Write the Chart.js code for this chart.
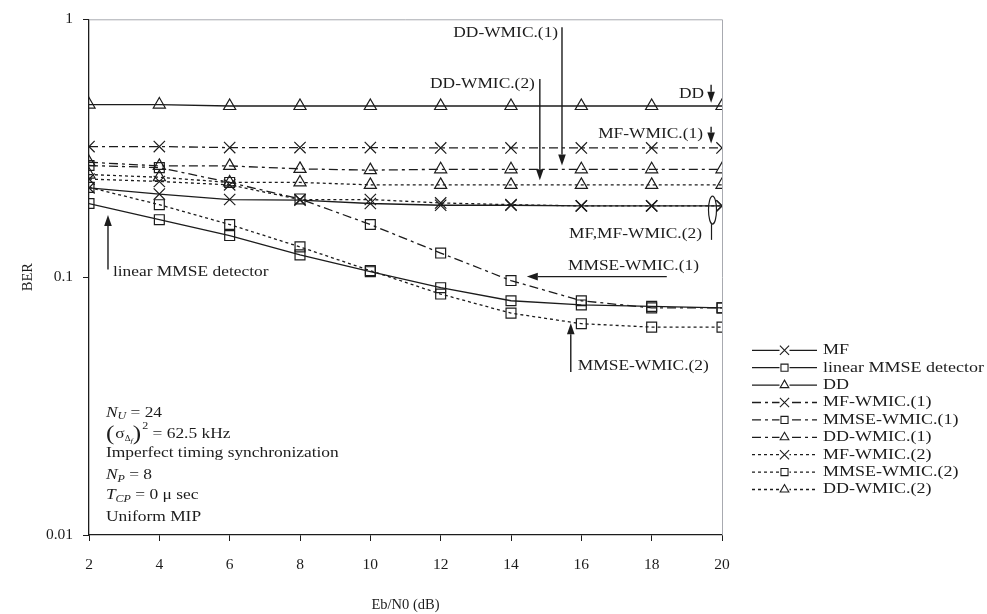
<!DOCTYPE html>
<html>
<head>
<meta charset="utf-8">
<script src="https://cdn.jsdelivr.net/npm/chart.js@4.4.1/dist/chart.umd.min.js"></script>
<style>
  html, body { margin: 0; padding: 0; background: #fff; }
  #wrap { width: 987px; height: 614px; }
</style>
</head>
<body>
<div id="wrap"><canvas id="c" width="987" height="614"></canvas></div>
<script>
// Eb/N0 sweep (dB)
const ebn0 = [2, 4, 6, 8, 10, 12, 14, 16, 18, 20];

// Bit error rate per detector
const mf         = [0.222, 0.210, 0.200, 0.199, 0.193, 0.190, 0.190, 0.189, 0.189, 0.189];
const linearMmse = [0.193, 0.167, 0.145, 0.122, 0.105, 0.091, 0.081, 0.078, 0.077, 0.076];
const dd         = [0.467, 0.467, 0.461, 0.461, 0.461, 0.461, 0.461, 0.461, 0.461, 0.461];
const mfWmic1    = [0.321, 0.321, 0.318, 0.318, 0.318, 0.317, 0.317, 0.317, 0.317, 0.317];
const mmseWmic1  = [0.271, 0.266, 0.233, 0.201, 0.160, 0.124, 0.097, 0.081, 0.076, 0.076];
const ddWmic1    = [0.279, 0.270, 0.270, 0.263, 0.260, 0.262, 0.262, 0.262, 0.262, 0.262];
const mfWmic2    = [0.240, 0.235, 0.228, 0.200, 0.200, 0.194, 0.191, 0.189, 0.189, 0.189];
const mmseWmic2  = [0.223, 0.191, 0.160, 0.131, 0.106, 0.086, 0.0725, 0.066, 0.064, 0.064];
const ddWmic2    = [0.250, 0.244, 0.233, 0.233, 0.228, 0.228, 0.228, 0.228, 0.228, 0.228];

// Series names
const seriesNames = [
  'MF', 'linear MMSE detector', 'DD',
  'MF-WMIC.(1)', 'MMSE-WMIC.(1)', 'DD-WMIC.(1)',
  'MF-WMIC.(2)', 'MMSE-WMIC.(2)', 'DD-WMIC.(2)'
];

// Axis ticks
const yTicks = [0.01, 0.1, 1];
const yTickLabels = ['0.01', '0.1', '1'];
const xTicks = [2, 4, 6, 8, 10, 12, 14, 16, 18, 20];

const SERIF = '"Liberation Serif", "Times New Roman", serif';
const INK = '#1c1c1c';
const SOLID = [];
const DASH_DOT = [9, 4, 3, 4];
const DOTTED = [3, 3];
const STRETCH = 1.2;   // wide set for annotation and legend text

const styleFor = [
  { dash: SOLID,    point: 'crossRot', r: 8 },
  { dash: SOLID,    point: 'rect',     r: 7 },
  { dash: SOLID,    point: 'triangle', r: 7 },
  { dash: DASH_DOT, point: 'crossRot', r: 8 },
  { dash: DASH_DOT, point: 'rect',     r: 7 },
  { dash: DASH_DOT, point: 'triangle', r: 7 },
  { dash: DOTTED,   point: 'crossRot', r: 8 },
  { dash: DOTTED,   point: 'rect',     r: 7 },
  { dash: DOTTED,   point: 'triangle', r: 7 }
];
const seriesValues = [mf, linearMmse, dd, mfWmic1, mmseWmic1, ddWmic1, mfWmic2, mmseWmic2, ddWmic2];

const datasets = seriesValues.map((vals, i) => ({
  label: seriesNames[i],
  data: vals.map((v, k) => ({ x: ebn0[k], y: v })),
  borderColor: INK,
  borderWidth: 1.3,
  borderDash: styleFor[i].dash,
  pointStyle: styleFor[i].point,
  pointRadius: styleFor[i].r,
  pointBorderColor: INK,
  pointBackgroundColor: 'rgba(255,255,255,0)',
  pointBorderWidth: 1.2,
  tension: 0,
  fill: false
}));

// Callout labels placed in data coordinates (x in dB, y in BER)
const callouts = [
  { text: 'DD-WMIC.(1)',   x: 15.34, y: 0.883,  align: 'right' },
  { text: 'DD-WMIC.(2)',   x: 14.68, y: 0.562,  align: 'right' },
  { text: 'DD',            x: 19.49, y: 0.514,  align: 'right' },
  { text: 'MF-WMIC.(1)',   x: 19.46, y: 0.357,  align: 'right' },
  { text: 'MF,MF-WMIC.(2)',x: 19.43, y: 0.147,  align: 'right' },
  { text: 'MMSE-WMIC.(1)', x: 15.62, y: 0.1098, align: 'left' },
  { text: 'MMSE-WMIC.(2)', x: 15.90, y: 0.0452, align: 'left' },
  { text: 'linear MMSE detector', x: 2.68, y: 0.1041, align: 'left' }
];
// Arrows: from (x0,y0) to tip (x1,y1)
const arrows = [
  { x0: 15.45, y0: 0.932, x1: 15.45, y1: 0.271 },
  { x0: 14.82, y0: 0.587, x1: 14.82, y1: 0.2375 },
  { x0: 19.69, y0: 0.557, x1: 19.69, y1: 0.4745 },
  { x0: 19.69, y0: 0.3835, x1: 19.69, y1: 0.330 },
  { x0: 18.43, y0: 0.1005, x1: 14.45, y1: 0.1005 },
  { x0: 15.70, y0: 0.0429, x1: 15.70, y1: 0.0662 },
  { x0: 2.54,  y0: 0.107,  x1: 2.54,  y1: 0.174 }
];
// Ellipse grouping MF and MF-WMIC.(2) near 20 dB, with its leader line
const groupMark = { x: 19.73, y: 0.182, lineTo: 0.1395 };

// Simulation parameters block
const paramLines = [
  { y: 0.0298, runs: [{ t: 'N', it: true }, { t: 'U', it: true, sub: true }, { t: ' = 24' }] },
  { y: 0.0247, runs: [{ t: '(', big: true }, { t: 'σ' }, { t: 'Δ', sub: true, small: true }, { t: 'f', it: true, subsub: true }, { t: ')', big: true }, { t: '2', sup: true }, { t: ' = 62.5 kHz' }] },
  { y: 0.0207, runs: [{ t: 'Imperfect timing synchronization' }] },
  { y: 0.0170, runs: [{ t: 'N', it: true }, { t: 'P', it: true, sub: true }, { t: ' = 8' }] },
  { y: 0.01426, runs: [{ t: 'T', it: true }, { t: 'CP', it: true, sub: true }, { t: ' = 0 μ sec' }] },
  { y: 0.01173, runs: [{ t: 'Uniform MIP' }] }
];
const paramX = 2.48;

function wideText(ctx, text, x, y, align) {
  const w = ctx.measureText(text).width * STRETCH;
  let left = x;
  if (align === 'right') left = x - w;
  else if (align === 'center') left = x - w / 2;
  ctx.save();
  ctx.translate(left, y);
  ctx.scale(STRETCH, 1);
  ctx.textAlign = 'left';
  ctx.fillText(text, 0, 0);
  ctx.restore();
  return w;
}

function drawArrow(ctx, x0, y0, x1, y1) {
  const ang = Math.atan2(y1 - y0, x1 - x0);
  const L = 11, W = 3.8;
  const bx = x1 - Math.cos(ang) * L, by = y1 - Math.sin(ang) * L;
  ctx.beginPath();
  ctx.moveTo(x0, y0);
  ctx.lineTo(bx, by);
  ctx.stroke();
  ctx.beginPath();
  ctx.moveTo(x1, y1);
  ctx.lineTo(bx - Math.sin(ang) * W, by + Math.cos(ang) * W);
  ctx.lineTo(bx + Math.sin(ang) * W, by - Math.cos(ang) * W);
  ctx.closePath();
  ctx.fill();
}

function drawRuns(ctx, x, y, runs) {
  let cx = x;
  for (const r of runs) {
    let size = 14.5, dy = 0;
    if (r.sub) { size = 10; dy = 4; }
    if (r.small) { size = 7.5; dy = 5; }
    if (r.subsub) { size = 7; dy = 7; }
    if (r.sup) { size = 10; dy = -7; }
    if (r.big) { size = 21; dy = 1; }
    ctx.font = (r.it ? 'italic ' : '') + size + 'px ' + SERIF;
    cx += wideText(ctx, r.t, cx, y + dy, 'left') + (r.big ? 1 : 0);
  }
}

const overlay = {
  id: 'overlay',
  afterDraw(chart) {
    const ctx = chart.ctx, xs = chart.scales.x, ys = chart.scales.y, a = chart.chartArea;
    ctx.save();
    // light frame on top and right
    ctx.strokeStyle = '#a8aab0';
    ctx.lineWidth = 1;
    ctx.beginPath();
    ctx.moveTo(a.left, a.top + 0.5);
    ctx.lineTo(a.right + 0.5, a.top + 0.5);
    ctx.lineTo(a.right + 0.5, a.bottom);
    ctx.stroke();

    ctx.fillStyle = INK;
    ctx.strokeStyle = INK;
    ctx.lineWidth = 1.4;
    ctx.textBaseline = 'middle';
    ctx.font = '14.5px ' + SERIF;
    for (const c of callouts) {
      wideText(ctx, c.text, xs.getPixelForValue(c.x), ys.getPixelForValue(c.y), c.align);
    }
    for (const ar of arrows) {
      drawArrow(ctx, xs.getPixelForValue(ar.x0), ys.getPixelForValue(ar.y0),
                     xs.getPixelForValue(ar.x1), ys.getPixelForValue(ar.y1));
    }
    const gx = xs.getPixelForValue(groupMark.x), gy = ys.getPixelForValue(groupMark.y);
    ctx.lineWidth = 1.2;
    ctx.beginPath();
    ctx.ellipse(gx, gy, 4, 14, 0, 0, Math.PI * 2);
    ctx.stroke();
    ctx.beginPath();
    ctx.moveTo(gx - 1, gy + 14);
    ctx.lineTo(gx - 1, ys.getPixelForValue(groupMark.lineTo));
    ctx.stroke();

    const px = xs.getPixelForValue(paramX);
    for (const line of paramLines) {
      drawRuns(ctx, px, ys.getPixelForValue(line.y), line.runs);
    }

    // legend with line samples
    const lx0 = a.right + 30, lx1 = a.right + 95, lmid = (lx0 + lx1) / 2;
    const top = a.top + 331, step = 17.4;
    chart.data.datasets.forEach((ds, i) => {
      const y = top + i * step;
      ctx.strokeStyle = INK;
      ctx.lineWidth = 1.3;
      ctx.setLineDash(ds.borderDash);
      ctx.beginPath();
      ctx.moveTo(lx0, y);
      ctx.lineTo(lx1, y);
      ctx.stroke();
      ctx.setLineDash([]);
      ctx.fillStyle = '#fff';
      const r = ds.pointStyle === 'crossRot' ? 6.5 : 5;
      ctx.fillRect(lmid - 5, y - 5, 10, 10);
      ctx.lineWidth = 1.1;
      Chart.helpers.drawPoint(ctx, { pointStyle: ds.pointStyle, radius: r, rotation: 0, borderWidth: 1.1 }, lmid, y);
      ctx.fillStyle = INK;
      ctx.font = '15px ' + SERIF;
      wideText(ctx, ds.label, lx1 + 6, y, 'left');
    });
    ctx.restore();
  }
};

new Chart(document.getElementById('c'), {
  type: 'line',
  data: { datasets },
  options: {
    responsive: false,
    animation: false,
    devicePixelRatio: 1,
    layout: { padding: { left: 0, right: 265, top: 16, bottom: 0 } },
    plugins: { legend: { display: false }, tooltip: { enabled: false } },
    scales: {
      x: {
        type: 'linear',
        min: 2, max: 20,
        afterBuildTicks(scale) { scale.ticks = xTicks.map(v => ({ value: v })); },
        afterFit(scale) { scale.height = 79; },
        ticks: { color: INK, font: { family: SERIF, size: 15.5 }, padding: 15, maxRotation: 0 },
        grid: { drawOnChartArea: false, drawTicks: true, tickLength: 6, color: INK },
        border: { display: true, color: INK, width: 1.3 },
        title: { display: true, text: 'Eb/N0 (dB)', color: INK, font: { family: SERIF, size: 14.5 }, padding: { top: 3, bottom: 0 } }
      },
      y: {
        type: 'logarithmic',
        min: 0.01, max: 1,
        afterBuildTicks(scale) { scale.ticks = yTicks.map(v => ({ value: v })); },
        afterFit(scale) { scale.width = 89; },
        ticks: {
          color: INK, font: { family: SERIF, size: 15.5 }, padding: 10,
          callback: (v) => { const k = yTicks.indexOf(v); return k >= 0 ? yTickLabels[k] : ''; }
        },
        grid: { drawOnChartArea: false, drawTicks: true, tickLength: 6, color: INK },
        border: { display: true, color: INK, width: 1.3 },
        title: { display: true, text: 'BER', color: INK, font: { family: SERIF, size: 14.5 }, padding: { top: 19, bottom: 0 } }
      }
    }
  },
  plugins: [overlay]
});
</script>
</body>
</html>
